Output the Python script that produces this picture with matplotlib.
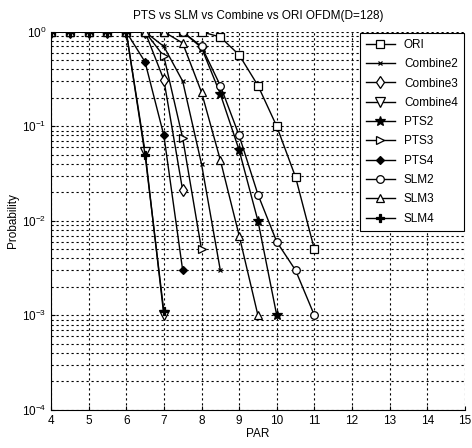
"""PTS vs SLM vs Combine vs ORI OFDM — CCDF plot"""
import matplotlib
matplotlib.use("Agg")
import matplotlib.pyplot as plt

plt.rcParams["font.family"] = ["Liberation Sans", "DejaVu Sans"]

# PAR grid (0.5 dB steps) and probabilities
x_ori = [4, 4.5, 5, 5.5, 6, 6.5, 7, 7.5, 8, 8.5, 9, 9.5, 10, 10.5, 11]
p_ori = [1, 1, 1, 1, 1, 1, 1, 1, 1, 0.88, 0.57, 0.27, 0.1, 0.029, 0.005]

x_c2 = [4, 4.5, 5, 5.5, 6, 6.5, 7, 7.5, 8, 8.5]
p_c2 = [1, 1, 1, 1, 1, 1, 0.7, 0.3, 0.04, 0.003]

x_c3 = [4, 4.5, 5, 5.5, 6, 6.5, 7, 7.5]
p_c3 = [1, 1, 1, 1, 1, 1, 0.31, 0.021]

x_c4 = [4, 4.5, 5, 5.5, 6, 6.5, 7]
p_c4 = [1, 1, 1, 1, 1, 0.054, 0.001]

x_p2 = [4, 4.5, 5, 5.5, 6, 6.5, 7, 7.5, 8, 8.5, 9, 9.5, 10]
p_p2 = [1, 1, 1, 1, 1, 1, 1, 1, 0.68, 0.22, 0.056, 0.01, 0.001]

x_p3 = [4, 4.5, 5, 5.5, 6, 6.5, 7, 7.5, 8]
p_p3 = [1, 1, 1, 1, 1, 1, 0.55, 0.075, 0.005]

x_p4 = [4, 4.5, 5, 5.5, 6, 6.5, 7, 7.5]
p_p4 = [1, 1, 1, 1, 1, 0.48, 0.08, 0.003]

x_s2 = [4, 4.5, 5, 5.5, 6, 6.5, 7, 7.5, 8, 8.5, 9, 9.5, 10, 10.5, 11]
p_s2 = [1, 1, 1, 1, 1, 1, 1, 1, 0.7, 0.27, 0.08, 0.019, 0.006, 0.003, 0.001]

x_s3 = [4, 4.5, 5, 5.5, 6, 6.5, 7, 7.5, 8, 8.5, 9, 9.5]
p_s3 = [1, 1, 1, 1, 1, 1, 1, 0.76, 0.23, 0.044, 0.007, 0.001]

x_s4 = [4, 4.5, 5, 5.5, 6, 6.5, 7]
p_s4 = [1, 1, 1, 1, 1, 0.05, 0.0011]

series = [
    ("ORI", x_ori, p_ori, "s", "white", 5.5),
    ("Combine2", x_c2, p_c2, "x", "black", 3.5),
    ("Combine3", x_c3, p_c3, "d", "white", 6),
    ("Combine4", x_c4, p_c4, "v", "white", 6.5),
    ("PTS2", x_p2, p_p2, "*", "black", 7),
    ("PTS3", x_p3, p_p3, ">", "white", 6),
    ("PTS4", x_p4, p_p4, "D", "black", 4),
    ("SLM2", x_s2, p_s2, "o", "white", 5.5),
    ("SLM3", x_s3, p_s3, "^", "white", 6),
    ("SLM4", x_s4, p_s4, "P", "black", 5.5),
]

fig = plt.figure(figsize=(4.72, 4.48), dpi=100)
ax = fig.add_axes([0.108, 0.085, 0.877, 0.844])

for name, xs, ps, mk, fc, ms in series:
    ax.semilogy(xs, ps, color="black", lw=1.0, marker=mk, ms=ms,
                mfc=fc, mec="black", mew=0.9, label=name)

ax.set_xlim(4, 15)
ax.set_ylim(1e-4, 1)
ax.set_xticks(range(4, 16))
ax.grid(True, which="major", ls=(0, (2, 2.5)), color="black", lw=0.8)
ax.grid(True, which="minor", axis="y", ls=(0, (2, 2.5)), color="black", lw=0.8)
ax.spines["top"].set_visible(False)
ax.spines["right"].set_visible(False)
ax.tick_params(labelsize=8.5, direction="in", length=3)
ax.tick_params(which="minor", length=0)

ax.set_title("PTS vs SLM vs Combine vs ORI OFDM(D=128)", fontsize=8.5, pad=9)
ax.set_xlabel("PAR", fontsize=8.5, labelpad=1)
ax.set_ylabel("Probability", fontsize=8.5, labelpad=2)

leg = ax.legend(loc="upper right", fontsize=8.5, frameon=True, fancybox=False,
                edgecolor="black", framealpha=1, borderaxespad=0.1,
                handlelength=2.4, labelspacing=0.62, borderpad=0.5)
leg.get_frame().set_linewidth(0.8)

plt.savefig("out.png", dpi=100)
plt.close()
